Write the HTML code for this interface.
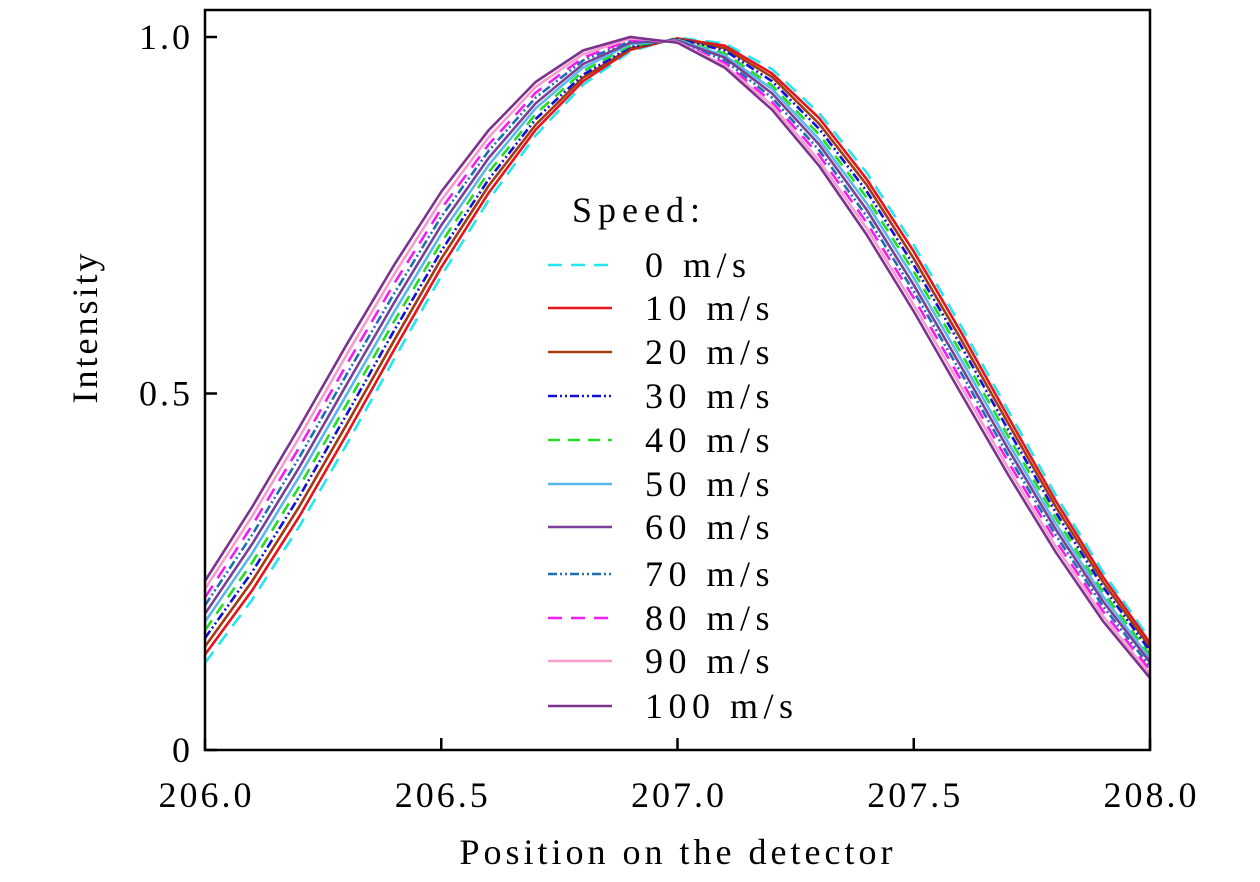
<!DOCTYPE html>
<html><head><meta charset="utf-8">
<style>
html,body{margin:0;padding:0;background:#fff;}
svg{display:block;font-family:"Liberation Serif",serif;}
</style></head>
<body>
<svg id="chart" width="1260" height="882" viewBox="0 0 1260 882" xmlns="http://www.w3.org/2000/svg">
<rect x="0" y="0" width="1260" height="882" fill="#fff"/>
<g id="series"></g>
<g id="legend"></g>
<rect x="205" y="10" width="945" height="740" fill="none" stroke="#000" stroke-width="2.5"/>
<g id="axes"></g>
<text x="678" y="864" font-size="36" text-anchor="middle" letter-spacing="4">Position on the detector</text>
<text transform="translate(97,327) rotate(-90)" font-size="36" text-anchor="middle" letter-spacing="3">Intensity</text>
</svg>
<script>
const xs = [206.0,206.1,206.2,206.3,206.4,206.5,206.6,206.7,206.8,206.9,207.0,207.1,207.2,207.3,207.4,207.5,207.6,207.7,207.8,207.9,208.0];
const speeds = ["0 m/s","10 m/s","20 m/s","30 m/s","40 m/s","50 m/s","60 m/s","70 m/s","80 m/s","90 m/s","100 m/s"];
const s0 = [.122,.211,.314,.429,.548,.665,.771,.862,.933,.980,.999,.991,.955,.893,.810,.708,.595,.476,.358,.250,.155];
const s10 = [.134,.224,.328,.443,.561,.677,.781,.870,.938,.982,.998,.988,.949,.886,.801,.699,.586,.467,.350,.243,.150];
const s20 = [.145,.237,.342,.457,.574,.689,.791,.877,.943,.984,.998,.984,.944,.878,.793,.689,.576,.458,.342,.236,.144];
const s30 = [.157,.250,.356,.471,.588,.700,.800,.885,.947,.986,.997,.981,.938,.871,.784,.680,.567,.449,.334,.229,.139];
const s40 = [.168,.263,.370,.485,.601,.712,.810,.892,.952,.988,.996,.977,.932,.863,.775,.671,.557,.440,.326,.222,.133];
const s50 = [.180,.276,.384,.499,.614,.724,.820,.900,.957,.990,.996,.974,.927,.856,.767,.662,.548,.431,.318,.216,.128];
const s60 = [.191,.289,.397,.513,.627,.736,.830,.907,.962,.992,.995,.971,.921,.849,.758,.652,.538,.422,.310,.209,.123];
const s70 = [.203,.302,.411,.527,.640,.748,.840,.915,.967,.994,.994,.967,.915,.841,.749,.643,.529,.413,.302,.202,.117];
const s80 = [.214,.315,.425,.541,.654,.759,.849,.922,.971,.996,.993,.964,.909,.834,.740,.634,.519,.404,.294,.195,.112];
const s90 = [.226,.328,.439,.555,.667,.771,.859,.930,.976,.998,.993,.960,.904,.826,.732,.624,.510,.395,.286,.188,.106];
const s100 = [.237,.341,.453,.569,.680,.783,.869,.937,.981,1.0,.992,.957,.898,.819,.723,.615,.500,.386,.278,.181,.101];
const seriesValues = [s0,s10,s20,s30,s40,s50,s60,s70,s80,s90,s100];
const xTicks = [206.0,206.5,207.0,207.5,208.0];
const xTickLabels = ["206.0","206.5","207.0","207.5","208.0"];
const yTicks = [0,0.5,1.0];
const yTickLabels = ["0","0.5","1.0"];

const styles = [
  {c:"#22e6f0",d:"14 9"},
  {c:"#e8141c",d:""},
  {c:"#a33a12",d:""},
  {c:"#1010d8",d:"9 3 2 3 2 3"},
  {c:"#22dd22",d:"12 8"},
  {c:"#5ab8ea",d:""},
  {c:"#7a3f96",d:""},
  {c:"#1f6fb2",d:"9 3 2 3 2 3"},
  {c:"#f01ef0",d:"14 9"},
  {c:"#f79ccc",d:""},
  {c:"#7b338f",d:""}
];
const NS = "http://www.w3.org/2000/svg";
const X0=205,X1=1150,Y0=750,Y1=37;
function sx(v){return X0+(v-206)/(208-206)*(X1-X0);}
function sy(v){return Y0-(v-0)/(1.0-0)*(Y0-Y1);}

const g = document.getElementById('series');
seriesValues.forEach((vals,i)=>{
  const p = document.createElementNS(NS,'path');
  
  
  let d = vals.map((v,j)=>(j?'L':'M')+sx(xs[j]).toFixed(1)+' '+sy(v).toFixed(1)).join(' ');
  p.setAttribute('d',d);
  p.setAttribute('fill','none');
  p.setAttribute('stroke',styles[i].c);
  p.setAttribute('stroke-width','2.6');
  if(styles[i].d) p.setAttribute('stroke-dasharray',styles[i].d);
  g.appendChild(p);
});

const ax = document.getElementById('axes');
xTicks.forEach((t,i)=>{
  const l = document.createElementNS(NS,'line');
  
  
  l.setAttribute('x1',sx(t));l.setAttribute('x2',sx(t));
  l.setAttribute('y1',Y0);l.setAttribute('y2',Y0-12);
  l.setAttribute('stroke','#000');l.setAttribute('stroke-width','2.5');
  ax.appendChild(l);
  const tx = document.createElementNS(NS,'text');
  
  
  tx.setAttribute('x',sx(t)+1.5);tx.setAttribute('y',807);
  tx.setAttribute('font-size','36');tx.setAttribute('text-anchor','middle');
  tx.setAttribute('letter-spacing','3');
  tx.textContent = xTickLabels[i];
  ax.appendChild(tx);
});
yTicks.forEach((t,i)=>{
  const l = document.createElementNS(NS,'line');
  
  
  l.setAttribute('x1',X0);l.setAttribute('x2',X0+12);
  l.setAttribute('y1',sy(t));l.setAttribute('y2',sy(t));
  l.setAttribute('stroke','#000');l.setAttribute('stroke-width','2.5');
  ax.appendChild(l);
  const tx = document.createElementNS(NS,'text');
  
  
  tx.setAttribute('x',193);tx.setAttribute('y',sy(t)+12);
  tx.setAttribute('font-size','36');tx.setAttribute('text-anchor','end');
  tx.setAttribute('letter-spacing','3');
  tx.textContent = yTickLabels[i];
  ax.appendChild(tx);
});

const lg = document.getElementById('legend');
const title = document.createElementNS(NS,'text');


title.setAttribute('x',572);title.setAttribute('y',222);title.setAttribute('font-size','36');
title.setAttribute('letter-spacing','6');
title.textContent = "Speed:";
lg.appendChild(title);
const rowY = [265,308,352,396,440,484,527,574,618,661,706];
speeds.forEach((s,i)=>{
  const l = document.createElementNS(NS,'line');
  
  
  l.setAttribute('x1',548);l.setAttribute('x2',612);
  l.setAttribute('y1',rowY[i]);l.setAttribute('y2',rowY[i]);
  l.setAttribute('stroke',styles[i].c);l.setAttribute('stroke-width','2.6');
  if(styles[i].d) l.setAttribute('stroke-dasharray',styles[i].d);
  lg.appendChild(l);
  const tx = document.createElementNS(NS,'text');
  
  
  tx.setAttribute('x',645);tx.setAttribute('y',rowY[i]+12);
  tx.setAttribute('font-size','36');tx.setAttribute('letter-spacing','5.5');
  tx.setAttribute('xml:space','preserve');
  tx.textContent = s;
  lg.appendChild(tx);
});
</script>
</body></html>
